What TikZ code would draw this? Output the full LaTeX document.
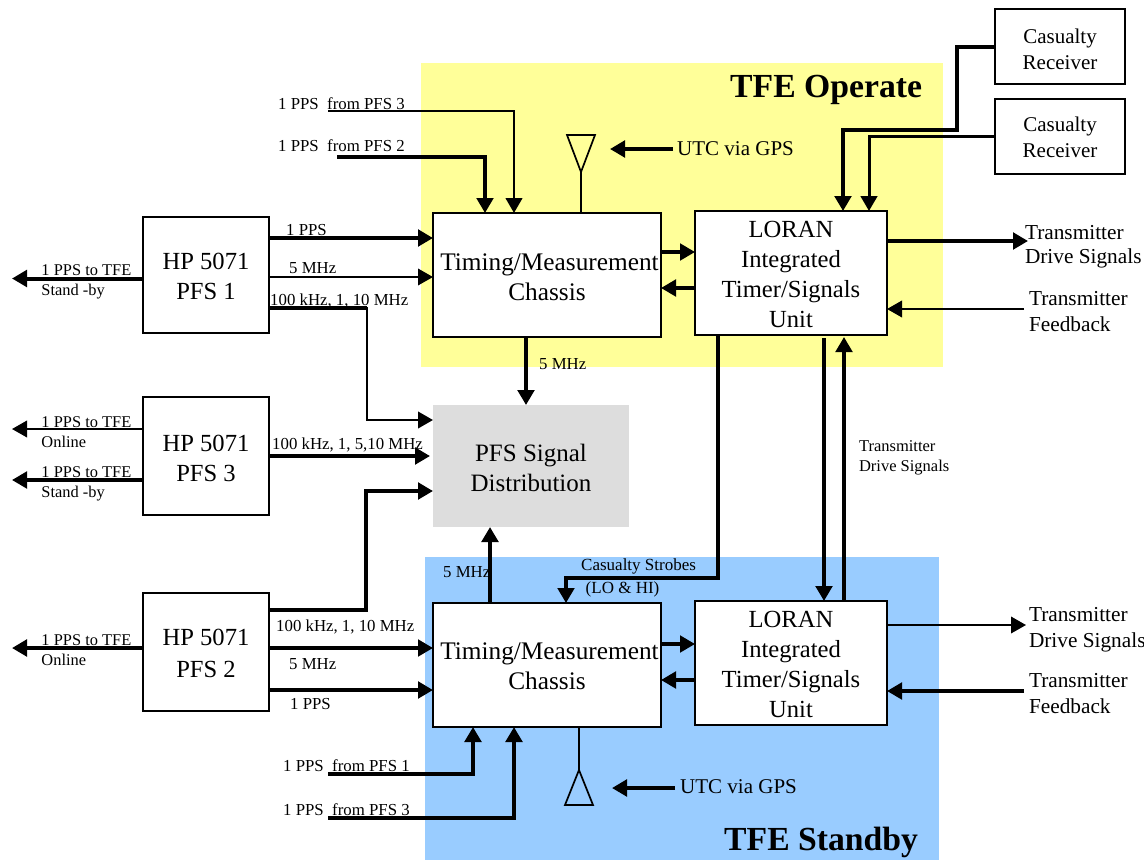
\documentclass[tikz,border=0pt]{standalone}
\usepackage{fontspec}
\setmainfont{Liberation Serif}
\usetikzlibrary{arrows.meta}
\definecolor{opyellow}{HTML}{FFFF99}
\definecolor{stblue}{HTML}{99CCFF}
\definecolor{pfsgrey}{HTML}{DDDDDD}
% #1 raise of the first baseline, #2 stretch of the font's leading, #3 column, #4 lines
\newcommand\stk[4]{\raisebox{#1pt}[0pt][0pt]{\renewcommand\arraystretch{#2}\begin{tabular}[t]{@{}#3@{}}#4\end{tabular}}}
\tikzset{
  x=1pt,y=-1pt,
  panel/.style={draw=none,inner sep=0,outer sep=0},
  boxnode/.style={draw=black,fill=white,line width=1.7pt,inner sep=0,outer sep=0,font=\fontsize{24.6}{30}\selectfont},
  small/.style={inner sep=0,anchor=base west,font=\fontsize{16.8}{20}\selectfont},
  mid/.style={inner sep=0,anchor=base west,font=\fontsize{21}{26}\selectfont},
  heading/.style={inner sep=0,anchor=base west,font=\fontsize{33.7}{40}\selectfont\bfseries},
  stack/.style={inner sep=0,outer sep=0,anchor=west,font=\fontsize{21.3}{26}\selectfont},
  wire/.style={line width=#1,line join=miter},
  feed/.style={line width=#1,line join=miter,-{Triangle[length=15pt,width=16.5pt]}},
}
\begin{document}
\begin{tikzpicture}
\useasboundingbox (0,0) rectangle (1144,860);
% panels
\node[panel,fill=opyellow,minimum width=522pt,minimum height=304pt] (operate) at (682,215) {};
\node[panel,fill=stblue,minimum width=514pt,minimum height=303pt] (standby) at (682,708.5) {};
% boxes
\node[boxnode,minimum width=126pt,minimum height=116pt] (pfs1) at (206,275) {\stk{6}{1}{c}{HP 5071\\PFS 1}};
\node[boxnode,minimum width=126pt,minimum height=118pt] (pfs3) at (206,456) {\stk{5}{1}{c}{HP 5071\\PFS 3}};
\node[boxnode,minimum width=126pt,minimum height=118pt] (pfs2) at (206,652) {\stk{7}{1.067}{c}{HP 5071\\PFS 2}};
\node[boxnode,minimum width=228pt,minimum height=124pt,font=\fontsize{25.3}{30}\selectfont] (tm1) at (547,275) {\stk{5}{1}{c}{\hspace*{5pt}Timing/Measurement\\Chassis}};
\node[boxnode,minimum width=228pt,minimum height=124pt,font=\fontsize{25.3}{30}\selectfont] (tm2) at (547,665) {\stk{6}{1}{c}{\hspace*{5pt}Timing/Measurement\\Chassis}};
\node[boxnode,minimum width=192pt,minimum height=124pt] (lor1) at (791,273) {\stk{36}{1}{c}{LORAN\\Integrated\\Timer/Signals\\Unit}};
\node[boxnode,minimum width=192pt,minimum height=124pt] (lor2) at (791,663) {\stk{36}{1}{c}{LORAN\\Integrated\\Timer/Signals\\Unit}};
\node[boxnode,minimum width=130pt,minimum height=75pt,font=\fontsize{21}{26}\selectfont] (cas1) at (1060,46.5) {\stk{3.5}{1}{c}{Casualty\\Receiver}};
\node[boxnode,minimum width=130pt,minimum height=75pt,font=\fontsize{21}{26}\selectfont] (cas2) at (1060,136.5) {\stk{5.5}{1}{c}{Casualty\\Receiver}};
\node[boxnode,draw=none,fill=pfsgrey,minimum width=196pt,minimum height=122pt,font=\fontsize{25}{30}\selectfont] (dist) at (531,466) {\stk{5}{1}{c}{PFS Signal\\Distribution}};
% free ends
\coordinate (o1) at (12,278.5);
\coordinate (o3a) at (12,429);
\coordinate (o3b) at (12,480);
\coordinate (o2) at (12,648);
\coordinate (s3) at (328,111);
\coordinate (s2) at (337,157);
\coordinate (b1) at (328,774);
\coordinate (b3) at (328,818);
\coordinate (gpsA) at (673,149);
\coordinate (gpsB) at (675,788);
\coordinate (antA) at (581,172);
\coordinate (antB) at (579,770);
\coordinate (antAt) at (610,149);
\coordinate (antBt) at (612,788);
\coordinate (drive1) at (1028,241);
\coordinate (drive2) at (1026,625);
\coordinate (fb1) at (1024,309);
\coordinate (fb2) at (1024,691);
% antennas
\draw[wire=1.7pt] (antA) -- (567,135) -- (595,135) -- cycle;
\draw[wire=1.7pt] (antB) -- (565,805) -- (593,805) -- cycle;
\draw[wire=2pt] (antA) -- (antA |- tm1.north);
\draw[wire=2pt] (antB) -- (antB |- tm2.south);
\draw[feed=4pt] (gpsA) -- (antAt);
\draw[feed=4pt] (gpsB) -- (antBt);
% PFS 1
\draw[feed=4pt] (pfs1.west |- o1) -- (o1);
\draw[feed=4pt] (pfs1.east |- 0,238) -- (tm1.west |- 0,238);
\draw[feed=2pt] (pfs1.east |- 0,277) -- (tm1.west |- 0,277);
\draw[wire=3.5pt] (pfs1.east |- 0,308) -- (367,308);
\draw[feed=2.4pt] (367,307) -- (367,420) -- (dist.west |- 0,420);
% PFS 3
\draw[feed=2pt] (pfs3.west |- o3a) -- (o3a);
\draw[feed=3.5pt] (pfs3.west |- o3b) -- (o3b);
\draw[feed=4pt] (pfs3.east |- 0,456) -- (430,456);
% PFS 2
\draw[feed=4pt] (pfs2.east |- 0,610) -- (366,610) -- (366,491) -- (dist.west |- 0,491);
\draw[feed=4pt] (pfs2.west |- o2) -- (o2);
\draw[feed=3.5pt] (pfs2.east |- 0,648) -- (tm2.west |- 0,648);
\draw[feed=4pt] (pfs2.east |- 0,690) -- (tm2.west |- 0,690);
% 1 PPS feeds
\draw[feed=2.7pt] (s3) -- (514,111) -- (514,0 |- tm1.north);
\draw[feed=3.5pt] (s2) -- (485,157) -- (485,0 |- tm1.north);
\draw[feed=4pt] (b1) -- (473,774) -- (473,0 |- tm2.south);
\draw[feed=4pt] (b3) -- (514,818) -- (514,0 |- tm2.south);
% TM - LORAN
\draw[feed=3.5pt] (tm1.east |- 0,252) -- (lor1.west |- 0,252);
\draw[feed=3.5pt] (lor1.west |- 0,288) -- (tm1.east |- 0,288);
\draw[feed=3.5pt] (tm2.east |- 0,644) -- (lor2.west |- 0,644);
\draw[feed=3.5pt] (lor2.west |- 0,680) -- (tm2.east |- 0,680);
% to distribution
\draw[feed=4pt] (526,0 |- tm1.south) -- (526,0 |- dist.north);
\draw[feed=4pt] (490,0 |- tm2.north) -- (490,0 |- dist.south);
% casualty receivers
\draw[feed=4pt] (cas1.west |- 0,47) -- (957,47) -- (957,130) -- (843,130) -- (843,0 |- lor1.north);
\draw[feed=3pt] (cas2.west |- 0,136) -- (869,136) -- (869,0 |- lor1.north);
% LORAN to LORAN
\draw[feed=4pt] (824,338) -- (824,0 |- lor2.north);
\draw[feed=3.5pt] (844,0 |- lor2.north) -- (844,337);
% strobes
\draw[feed=3.5pt] (718,0 |- lor1.south) -- (718,578) -- (566,578) -- (566,0 |- tm2.north);
% transmitter
\draw[feed=4pt] (lor1.east |- drive1) -- (drive1);
\draw[feed=2pt] (fb1) -- (lor1.east |- fb1);
\draw[feed=2pt] (lor2.east |- drive2) -- (drive2);
\draw[feed=3.5pt] (fb2) -- (lor2.east |- fb2);
% labels
\node[heading] (tOp) at (730,97) {TFE Operate};
\node[heading] (tSt) at (724,850) {TFE Standby};
\node[mid] (utc1) at (677,155) {UTC via GPS};
\node[mid] (utc2) at (680,793) {UTC via GPS};
\node[stack] (tx1) at (1025,239) {\stk{0}{0.923}{l}{Transmitter\\Drive Signals}};
\node[stack] (fbk1) at (1029,305) {\stk{0}{1}{l}{Transmitter\\Feedback}};
\node[stack] (tx2) at (1029,621) {\stk{0}{1}{l}{Transmitter\\Drive Signals}};
\node[stack] (fbk2) at (1029,687) {\stk{0}{1}{l}{Transmitter\\Feedback}};
\node[stack,font=\fontsize{16.5}{20}\selectfont] (tx3) at (859,451) {\stk{0}{1}{l}{Transmitter\\Drive Signals}};
\node[small] (l1) at (278,109) {1 PPS\ \ from PFS 3};
\node[small] (l2) at (278,151) {1 PPS\ \ from PFS 2};
\node[small] (l3) at (283,771) {1 PPS\ \ from PFS 1};
\node[small] (l4) at (283,815) {1 PPS\ \ from PFS 3};
\node[small] (l5) at (286,235) {1 PPS};
\node[small] (l6) at (289,273) {5 MHz};
\node[small] (l7) at (270,305) {100 kHz, 1, 10 MHz};
\node[small] (l8) at (272,449) {100 kHz, 1, 5,10 MHz};
\node[small] (l9) at (276,631) {100 kHz, 1, 10 MHz};
\node[small] (l10) at (289,669) {5 MHz};
\node[small] (l11) at (290,709) {1 PPS};
\node[small] (l12) at (539,369) {5 MHz};
\node[small] (l13) at (443,577) {5 MHz};
\node[stack,font=\fontsize{16.4}{20}\selectfont] (w1) at (41.5,275) {\stk{0}{1}{l}{1 PPS to TFE\\Stand -by}};
\node[stack,font=\fontsize{16.4}{20}\selectfont] (w2) at (41.5,427) {\stk{0}{1}{l}{1 PPS to TFE\\Online}};
\node[stack,font=\fontsize{16.4}{20}\selectfont] (w3) at (41.5,477) {\stk{0}{1}{l}{1 PPS to TFE\\Stand -by}};
\node[stack,font=\fontsize{16.4}{20}\selectfont] (w4) at (41.5,645) {\stk{0}{1}{l}{1 PPS to TFE\\Online}};
\node[small,font=\fontsize{17}{20}\selectfont] (st1) at (581,570) {Casualty Strobes};
\node[small,font=\fontsize{17}{20}\selectfont] (st2) at (585.5,593) {(LO \& HI)};
\end{tikzpicture}
\end{document}
